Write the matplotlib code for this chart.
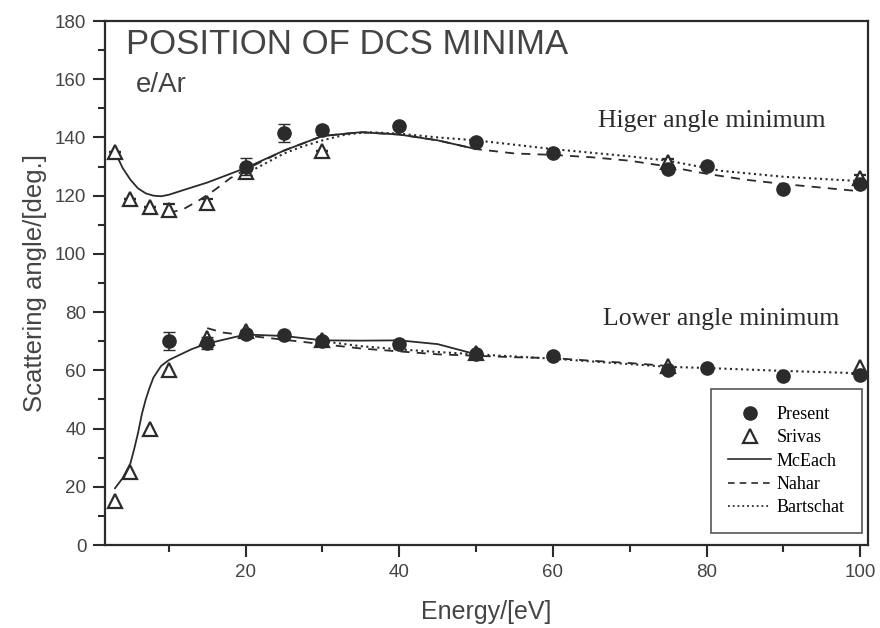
import matplotlib
matplotlib.use("Agg")
import matplotlib.pyplot as plt
from matplotlib.lines import Line2D
from matplotlib.ticker import MultipleLocator

# measured points (this work), with error bars
E_pres_hi = [20, 25, 30, 40, 50, 60, 75, 80, 90, 100]
pres_hi = [130, 141.5, 142.5, 144, 138.5, 134.8, 129.2, 130.2, 122.3, 124]
err_hi = [3, 3, 1.5, 1, 1, 1, 1, 1, 1, 1]

E_pres_lo = [10, 15, 20, 25, 30, 40, 50, 60, 75, 80, 90, 100]
pres_lo = [70, 69.5, 72.5, 72, 70, 69, 65.5, 64.8, 60, 60.8, 58, 58.5]
err_lo = [3, 2, 1.5, 1, 1, 1, 1, 1, 1, 1, 1, 1]

# Srivastava et al.
E_sri_hi = [3, 5, 7.5, 10, 15, 20, 30, 75, 100]
sri_hi = [135, 119, 116, 115, 117.5, 128, 135.5, 131.5, 126]
sri_hi_err = [0, 0, 0, 2, 1.5, 2, 0, 1, 1]
E_sri_lo = [3, 5, 7.5, 10, 15, 20, 30, 50, 75, 100]
sri_lo = [15, 25, 40, 60, 71, 73.5, 70.5, 66, 61.5, 61]

# McEachran
E_mce_hi = [3, 4, 5, 6, 7, 8, 9, 10, 12, 15, 20, 25, 30, 35, 40, 45, 50]
mce_hi = [135, 129.5, 125.5, 122.5, 120.8, 120, 119.8, 120.3, 122, 124.5,
          129.5, 135.5, 140.5, 141.8, 141, 139, 136]
E_mce_lo = [3, 4, 5, 5.5, 6, 6.5, 7, 7.5, 8, 9, 10, 11, 13, 15, 20, 25, 30,
            35, 40, 45, 50]
mce_lo = [19.5, 23, 28, 33, 38.5, 45, 50, 54, 57.5, 61.5, 63.5, 64.8, 67.3,
          69.2, 72.3, 71.8, 70.3, 70.2, 70.3, 69, 65.5]

# Nahar
E_nah_hi = [10, 12, 14, 16, 18, 20, 25, 30, 35, 40, 45, 50, 55, 60, 65, 70,
            75, 80, 85, 90, 100]
nah_hi = [114, 115.5, 118.5, 122, 126, 129, 135.5, 140.5, 141.8, 141, 139,
          136, 134.5, 134, 133.2, 132, 130, 127.5, 125.5, 124, 121.5]
E_nah_lo = [15, 17, 20, 25, 30, 35, 40, 45, 50, 55, 60, 65, 70, 75]
nah_lo = [74.5, 73, 72, 70.5, 69, 67.5, 66.5, 65.5, 65, 64.5, 64.2, 63.3,
          62.5, 61.5]

# Bartschat
E_bar_hi = [20, 22.5, 25, 27.5, 30, 33, 36, 40, 45, 50, 60, 70, 75, 82, 90, 100]
bar_hi = [127.5, 131, 134.5, 137, 139, 141, 141.8, 141.3, 140, 139, 136,
          133.5, 132, 128.5, 126.5, 125]
E_bar_lo = [30, 35, 40, 45, 50, 60, 75, 80, 90, 100]
bar_lo = [70, 68.3, 67.2, 66.3, 65.5, 64, 61.2, 60.8, 59.8, 59]

ink = "#2b2b2b"
txt = "#444444"
plt.rcParams['font.family'] = ['Liberation Sans', 'DejaVu Sans']
serif = ['Liberation Serif', 'DejaVu Serif']

fig = plt.figure(figsize=(8.8, 6.28), dpi=100)
ax = fig.add_axes([105 / 880, 1 - 545 / 628, 763 / 880, 524 / 628])

lw = 1.3
ax.plot(E_mce_hi, mce_hi, '-', color=ink, lw=lw)
ax.plot(E_mce_lo, mce_lo, '-', color=ink, lw=lw)
ax.plot(E_nah_hi, nah_hi, '--', color=ink, lw=lw, dashes=(5, 4))
ax.plot(E_nah_lo, nah_lo, '--', color=ink, lw=lw, dashes=(5, 4))
ax.plot(E_bar_hi, bar_hi, ':', color=ink, lw=1.5)
ax.plot(E_bar_lo, bar_lo, ':', color=ink, lw=1.5)

ax.errorbar(E_sri_hi, sri_hi, yerr=sri_hi_err, fmt='^', ms=10, mfc='white',
            mec=ink, mew=1.6, ecolor=ink, elinewidth=1.2, capsize=4, zorder=3)
ax.plot(E_sri_lo, sri_lo, '^', ms=10, mfc='white', mec=ink, mew=1.6, zorder=3)

ax.errorbar(E_pres_hi, pres_hi, yerr=err_hi, fmt='o', ms=9.5, color=ink,
            ecolor=ink, elinewidth=1.2, capsize=4, zorder=4)
ax.errorbar(E_pres_lo, pres_lo, yerr=err_lo, fmt='o', ms=9.5, color=ink,
            ecolor=ink, elinewidth=1.2, capsize=4, zorder=4)

ax.set_xlim(1.7, 101)
ax.set_ylim(0, 180)
ax.set_xticks([20, 40, 60, 80, 100])
ax.xaxis.set_minor_locator(MultipleLocator(10))
ax.yaxis.set_major_locator(MultipleLocator(20))
ax.yaxis.set_minor_locator(MultipleLocator(10))
ax.tick_params(which='major', direction='out', length=8.5, width=1.5,
               color=ink, labelsize=13.5, labelcolor=txt, pad=5)
ax.tick_params(which='minor', direction='out', length=5, width=1.5, color=ink)
ax.tick_params(top=False, right=False)
for s in ax.spines.values():
    s.set_linewidth(1.6)
    s.set_color(ink)

ax.set_xlabel('Energy/[eV]', fontsize=18, color=txt, labelpad=14)
ax.set_ylabel('Scattering angle/[deg.]', fontsize=18.5, color=txt, labelpad=6)

ax.text(0.028, 0.955, 'POSITION OF DCS MINIMA', transform=ax.transAxes,
        fontsize=25, color=txt, va='center')
ax.text(0.04, 0.877, 'e/Ar', transform=ax.transAxes, fontsize=20,
        color=txt, va='center')
ax.text(80.7, 145.7, 'Higer angle minimum', fontsize=18.5, family=serif,
        color=ink, ha='center', va='center')
ax.text(81.9, 77.7, 'Lower angle minimum', fontsize=18.5, family=serif,
        color=ink, ha='center', va='center')

handles = [
    Line2D([], [], ls='none', marker='o', ms=9.5, color=ink),
    Line2D([], [], ls='none', marker='^', ms=10, mfc='white', mec=ink, mew=1.6),
    Line2D([], [], ls='-', color=ink, lw=1.2),
    Line2D([], [], ls='--', color=ink, lw=1.2, dashes=(4, 3)),
    Line2D([], [], ls=':', color=ink, lw=1.3),
]
labels = ['Present', 'Srivas', 'McEach', 'Nahar', 'Bartschat']
leg = ax.legend(handles, labels, loc='lower right',
                bbox_to_anchor=(0.992, 0.022), frameon=True, fancybox=False,
                edgecolor=ink, prop={'family': serif, 'size': 13},
                handlelength=2.4, handletextpad=0.3, labelspacing=0.35,
                borderpad=0.95, borderaxespad=0)
leg.get_frame().set_linewidth(1.2)

fig.savefig('out.png', dpi=100)
